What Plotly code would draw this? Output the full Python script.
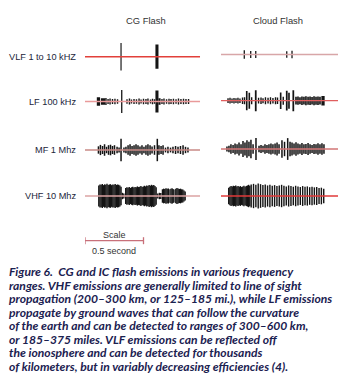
import plotly.graph_objects as go

W, H = 354, 383

# ---------------- data ----------------
col_titles = ["CG Flash", "Cloud Flash"]
row_labels = ["VLF 1 to 10 kHZ", "LF 100 kHz", "MF 1 Mhz", "VHF 10 Mhz"]
record_ms = [983, 1000]          # length of each record (ms)
scale_ms = 500
scale_title = "Scale"
scale_label = "0.5 second"

# pulse times (ms), half-amplitudes (arb. units), durations (ms)
vlf_cg_t = [308, 615]
vlf_cg_amp = [0.86, 0.76]
vlf_cg_dur = [10, 26]

vlf_cloud_t = [199, 254, 297, 562, 607]
vlf_cloud_amp = [0.26, 0.22, 0.22, 0.20, 0.24]
vlf_cloud_dur = [11, 11, 11, 11, 11]

lf_cg_t = [115, 154, 179, 197, 214, 235, 256, 278, 314,
           359, 380, 397, 419, 440, 462, 479, 500, 521, 538, 560, 577, 594, 615,
           637, 658, 675, 697, 718, 735, 756, 778, 799, 820, 842, 863, 885]
lf_cg_amp = [0.27, 0.20, 0.22, 0.15, 0.18, 0.15, 0.17, 0.14, 0.72,
             0.14, 0.18, 0.12, 0.16, 0.14, 0.18, 0.13, 0.17, 0.15, 0.18, 0.13, 0.17, 0.14, 0.68,
             0.20, 0.16, 0.18, 0.14, 0.17, 0.15, 0.17, 0.14, 0.18, 0.15, 0.17, 0.15, 0.16]
lf_cg_dur = [28, 36, 12, 12, 12, 12, 12, 12, 11,
             12, 12, 12, 12, 12, 12, 12, 12, 12, 12, 12, 12, 12, 26,
             18, 12, 12, 12, 12, 12, 12, 12, 12, 12, 12, 12, 12]

lf_cloud_t = [60, 77, 94, 111, 128, 145, 162, 184, 201,
              220, 242, 262, 297,
              321, 342, 359, 380, 402, 423, 444, 466, 483,
              510, 532, 562, 581, 618,
              641, 658, 675, 692, 709, 726, 744, 761, 778, 795, 812, 829, 846, 872]
lf_cloud_amp = [0.15, 0.18, 0.14, 0.17, 0.15, 0.18, 0.14, 0.20, 0.22,
                0.60, 0.50, 0.22, 0.66,
                0.18, 0.20, 0.16, 0.22, 0.18, 0.22, 0.17, 0.22, 0.20,
                0.52, 0.25, 0.62, 0.50, 0.66,
                0.24, 0.26, 0.22, 0.27, 0.24, 0.28, 0.25, 0.27, 0.23, 0.28, 0.25, 0.27, 0.24, 0.30]
lf_cloud_dur = [12, 12, 12, 12, 12, 12, 12, 12, 12,
                14, 14, 12, 15,
                12, 12, 12, 12, 12, 12, 12, 12, 12,
                14, 12, 15, 14, 15,
                14, 14, 14, 14, 14, 14, 14, 14, 14, 14, 14, 14, 14, 28]

mf_cg_t = [115, 132, 150, 167, 184, 201, 218, 235, 252, 274, 291, 308,
           333, 350, 368, 385, 402, 419, 436, 453, 470, 487, 504, 521, 538, 556, 573, 594, 618,
           632, 650, 667, 688, 709, 731, 752, 774, 795, 816, 838, 859, 880]
mf_cg_amp = [0.23, 0.32, 0.25, 0.36, 0.20, 0.30, 0.33, 0.25, 0.30, 0.20, 0.15, 0.70,
             0.15, 0.20, 0.30, 0.36, 0.25, 0.30, 0.36, 0.30, 0.22, 0.30, 0.20, 0.30, 0.36, 0.30, 0.22, 0.30, 0.70,
             0.30, 0.25, 0.30, 0.15, 0.20, 0.15, 0.20, 0.25, 0.20, 0.25, 0.30, 0.20, 0.15]
mf_cg_dur = 13

mf_cloud_t = [51, 68, 85, 103, 120, 137, 154, 171, 188, 205, 222, 239, 256, 274, 299,
              325, 342, 359, 376, 393, 410, 427, 444, 462, 479, 496,
              521, 543, 570,
              590, 607, 624, 641, 658, 675, 692, 709, 726, 744, 761, 778, 795, 812, 829, 846, 863, 880]
mf_cloud_amp = [0.15, 0.20, 0.30, 0.25, 0.35, 0.30, 0.40, 0.30, 0.50, 0.40, 0.55, 0.45, 0.58, 0.30, 0.68,
                0.20, 0.25, 0.20, 0.30, 0.25, 0.30, 0.35, 0.30, 0.35, 0.40, 0.30,
                0.55, 0.45, 0.68,
                0.45, 0.40, 0.35, 0.42, 0.35, 0.30, 0.38, 0.30, 0.32, 0.38, 0.30, 0.25, 0.32, 0.30, 0.36, 0.30, 0.36, 0.30]
mf_cloud_dur = 13

vhf_cg_t = [118, 128, 138, 148, 158, 168, 178, 188, 198, 208, 218, 228, 238, 248, 258, 268, 278, 288, 298, 308,
            320, 332,
            348, 358, 368, 378, 388, 398, 408, 418, 428, 438, 448, 458, 468, 478, 488, 498, 508, 518, 528,
            538, 548, 558, 568, 578, 588, 598, 608,
            622, 636, 648,
            662, 672, 682, 692, 702, 712, 718, 734, 744, 752, 760, 776, 786, 796, 806, 816, 826, 836, 846, 856]
vhf_cg_amp = [0.66, 0.72, 0.70, 0.75, 0.68, 0.73, 0.70, 0.76, 0.69, 0.72, 0.74, 0.68, 0.72, 0.70, 0.75, 0.69, 0.72, 0.70, 0.66, 0.58,
              0.20, 0.16,
              0.50, 0.55, 0.52, 0.56, 0.50, 0.55, 0.58, 0.53, 0.57, 0.55, 0.60, 0.56, 0.58, 0.62, 0.57, 0.60, 0.64, 0.60, 0.66,
              0.62, 0.68, 0.64, 0.70, 0.66, 0.68, 0.62, 0.55,
              0.16, 0.20, 0.18,
              0.42, 0.46, 0.44, 0.48, 0.45, 0.47, 0.42, 0.45, 0.48, 0.44, 0.40, 0.46, 0.50, 0.47, 0.44, 0.46, 0.42, 0.40, 0.35, 0.28]
vhf_cg_dur = 12

vhf_cloud_t = [66, 76, 86, 96, 106, 116, 126, 136, 146, 156, 166, 176, 186, 196, 206, 216, 226, 236, 246,
               258, 278, 298, 318, 338, 358, 378, 398, 418, 438, 458, 478, 498, 518, 538, 558,
               578, 598, 618, 638, 658, 678, 698, 718, 738, 758, 778, 798, 818, 838, 858, 878]
vhf_cloud_amp = [0.52, 0.58, 0.62, 0.60, 0.64, 0.62, 0.66, 0.60, 0.63, 0.58, 0.62, 0.56, 0.60, 0.64, 0.58, 0.62, 0.66, 0.70, 0.64,
                 0.72, 0.76, 0.70, 0.78, 0.74, 0.68, 0.72, 0.66, 0.70, 0.64, 0.68, 0.62, 0.66, 0.70, 0.64, 0.60,
                 0.66, 0.62, 0.58, 0.64, 0.60, 0.56, 0.62, 0.58, 0.60, 0.55, 0.58, 0.54, 0.56, 0.50, 0.52, 0.46]
vhf_cloud_dur = [12, 12, 12, 12, 12, 12, 12, 12, 12, 12, 12, 12, 12, 12, 12, 12, 12, 12, 12,
                 12, 12, 12, 12, 12, 12, 12, 12, 12, 12, 12, 12, 12, 12, 12, 12,
                 12, 12, 12, 12, 12, 12, 12, 12, 12, 12, 12, 12, 12, 12, 12, 12]

caption_lines = [
    "Figure 6.  CG and IC flash emissions in various frequency",
    "ranges. VHF emissions are generally limited to line of sight",
    "propagation (200–300 km, or 125–185 mi.), while LF emissions",
    "propagate by ground waves that can follow the curvature",
    "of the earth and can be detected to ranges of 300–600 km,",
    "or 185–375 miles. VLF emissions can be reflected off",
    "the ionosphere and can be detected for thousands",
    "of kilometers, but in variably decreasing efficiencies (4).",
]

panels = {
    (0, 0): (vlf_cg_t, vlf_cg_amp, vlf_cg_dur),
    (0, 1): (vlf_cloud_t, vlf_cloud_amp, vlf_cloud_dur),
    (1, 0): (lf_cg_t, lf_cg_amp, lf_cg_dur),
    (1, 1): (lf_cloud_t, lf_cloud_amp, lf_cloud_dur),
    (2, 0): (mf_cg_t, mf_cg_amp, mf_cg_dur),
    (2, 1): (mf_cloud_t, mf_cloud_amp, mf_cloud_dur),
    (3, 0): (vhf_cg_t, vhf_cg_amp, vhf_cg_dur),
    (3, 1): (vhf_cloud_t, vhf_cloud_amp, vhf_cloud_dur),
}

# ---------------- layout / style ----------------
def px_x(x):
    return x / W

def px_y(y):
    return 1 - y / H

col_px = [(85, 202), (221, 338)]
row_center_px = [[56.7, 101.5, 150, 196], [54.5, 100.7, 149, 196]]
half_px = 16
line_colors = [["#e2403a", "#e99a9a", "#c98a86", "#dba3a3"],
               ["#d8a6a8", "#e05e5e", "#d27676", "#e03a3a"]]
line_widths = [[1.6, 1.3, 1.3, 1.3], [1.6, 1.3, 1.3, 1.3]]
pulse_color = "#141414"

label_font = dict(family="Liberation Sans, Arial, sans-serif", size=9.2, color="#22253a")
title_font = dict(family="Liberation Sans, Arial, sans-serif", size=9.4, color="#333333")
caption_font = dict(family="Lato, sans-serif", size=12.1, color="#1b2150")

fig = go.Figure()
layout_axes = {}
for r in range(4):
    for c in range(2):
        k = r * 2 + c + 1
        xa = "x" if k == 1 else f"x{k}"
        ya = "y" if k == 1 else f"y{k}"
        x0, x1 = col_px[c]
        yc = row_center_px[c][r]
        layout_axes["xaxis" if k == 1 else f"xaxis{k}"] = dict(
            domain=[px_x(x0), px_x(x1)], range=[0, 1000], visible=False,
            anchor=ya, fixedrange=True)
        layout_axes["yaxis" if k == 1 else f"yaxis{k}"] = dict(
            domain=[px_y(yc + half_px), px_y(yc - half_px)], range=[-1, 1],
            visible=False, anchor=xa, fixedrange=True)
        fig.add_trace(go.Scatter(
            x=[0, record_ms[c]], y=[0, 0], mode="lines",
            line=dict(color=line_colors[c][r], width=line_widths[c][r]),
            xaxis=xa, yaxis=ya, hoverinfo="skip", showlegend=False))
        t, a, d = panels[(r, c)]
        fig.add_trace(go.Bar(
            x=t, y=[2 * v for v in a], base=[-v for v in a], width=d,
            marker=dict(color=pulse_color, line=dict(width=0)),
            xaxis=xa, yaxis=ya, hoverinfo="skip", showlegend=False))

annotations = []
title_x_px = [146, 277.7]
for c, name in enumerate(col_titles):
    annotations.append(dict(text=name, x=px_x(title_x_px[c]), y=px_y(20), xref="paper", yref="paper",
                            xanchor="center", yanchor="middle", showarrow=False, font=title_font))
label_y_px = [56.7, 102.3, 150, 196]
for r, name in enumerate(row_labels):
    annotations.append(dict(text=name, x=px_x(77.5), y=px_y(label_y_px[r]), xref="paper", yref="paper",
                            xanchor="right", yanchor="middle", showarrow=False, font=label_font))

# scale bar (drawn in the time axis of the CG column)
scale_y = 240.7
scale_color = "#c8707a"
shapes = [
    dict(type="line", xref="x7", yref="paper", x0=0, x1=scale_ms,
         y0=px_y(scale_y), y1=px_y(scale_y), line=dict(color=scale_color, width=1.3)),
    dict(type="line", xref="x7", yref="paper", x0=0, x1=0,
         y0=px_y(scale_y - 3.5), y1=px_y(scale_y + 3.5), line=dict(color=scale_color, width=1.3)),
    dict(type="line", xref="x7", yref="paper", x0=scale_ms, x1=scale_ms,
         y0=px_y(scale_y - 3.5), y1=px_y(scale_y + 3.5), line=dict(color=scale_color, width=1.3)),
]
scale_font = dict(family="Liberation Sans, Arial, sans-serif", size=9, color="#333333")
annotations.append(dict(text=scale_title, x=scale_ms / 2, xref="x7", y=px_y(234.5), yref="paper",
                        xanchor="center", yanchor="middle", showarrow=False, font=scale_font))
annotations.append(dict(text=scale_label, x=scale_ms / 2, xref="x7", y=px_y(250.7), yref="paper",
                        xanchor="center", yanchor="middle", showarrow=False, font=scale_font))

cap_y_px = [271.7, 285, 298.5, 312, 325.5, 339, 352.5, 366]
for i, line in enumerate(caption_lines):
    annotations.append(dict(text=f"<b><i>{line}</i></b>", x=px_x(6.5), y=px_y(cap_y_px[i]),
                            xref="paper", yref="paper", xanchor="left", yanchor="middle",
                            showarrow=False, font=caption_font))

fig.update_layout(
    width=W, height=H, margin=dict(l=0, r=0, t=0, b=0),
    paper_bgcolor="white", plot_bgcolor="white",
    barmode="overlay", showlegend=False,
    annotations=annotations, shapes=shapes,
    **layout_axes,
)

fig.write_html("out.html", config={"displayModeBar": False, "staticPlot": True})
